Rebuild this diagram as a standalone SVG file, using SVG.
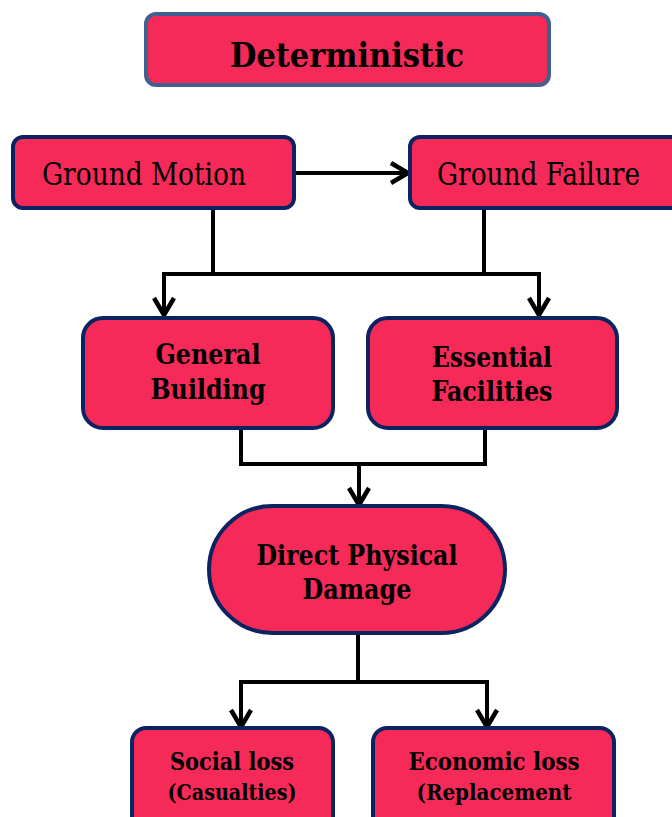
<svg xmlns="http://www.w3.org/2000/svg" width="672" height="817" viewBox="0 0 672 817">
<style>
.box{fill:#F62A58;stroke:#0B2361;stroke-width:4}
.title{fill:#F62A58;stroke:#3F6190;stroke-width:4}
.t{font-family:"DejaVu Serif","Liberation Serif",serif;font-stretch:condensed;fill:#000;text-anchor:middle}
.b{font-weight:bold}
.l{font-family:"DejaVu Serif","Liberation Serif",serif;font-stretch:condensed;fill:#000}
.c{fill:none;stroke:#000;stroke-width:4;stroke-linejoin:miter}
</style>
<defs>
<marker id="ah" markerUnits="userSpaceOnUse" viewBox="0 0 24 26" markerWidth="24" markerHeight="26" refX="20" refY="13" orient="auto">
<path d="M3,3 L20,13 L3,23" fill="none" stroke="#000" stroke-width="4.5"/>
</marker>
</defs>
<rect width="672" height="817" fill="#fff"/>
<g id="connectors">
<line class="c" x1="294" y1="173" x2="408" y2="173" marker-end="url(#ah)"/>
<polyline class="c" points="213,208 213,274"/>
<polyline class="c" points="484,208 484,274"/>
<polyline class="c" points="164,315 164,274 539,274 539,315" marker-end="url(#ah)"/>
<line class="c" x1="164" y1="274" x2="164" y2="315" marker-end="url(#ah)"/>
<polyline class="c" points="241,429 241,464 485,464 485,429"/>
<line class="c" x1="359" y1="464" x2="359" y2="505" marker-end="url(#ah)"/>
<polyline class="c" points="358,633 358,682"/>
<polyline class="c" points="241,727 241,682 487,682 487,727" marker-end="url(#ah)"/>
<line class="c" x1="241" y1="682" x2="241" y2="727" marker-end="url(#ah)"/>
</g>
<g id="title">
<rect class="title" x="146" y="14" width="403" height="71" rx="10"/>
<text class="t b" x="347" y="67" font-size="34" textLength="234" lengthAdjust="spacingAndGlyphs">Deterministic</text>
</g>
<g id="ground-motion">
<rect class="box" x="13" y="137" width="281" height="71" rx="10"/>
<text class="l" x="42" y="185" font-size="31" textLength="204" lengthAdjust="spacingAndGlyphs">Ground Motion</text>
</g>
<g id="ground-failure">
<rect class="box" x="410" y="137" width="275" height="71" rx="10"/>
<text class="l" x="437" y="185" font-size="31" textLength="203" lengthAdjust="spacingAndGlyphs">Ground Failure</text>
</g>
<g id="general-building">
<rect class="box" x="83" y="318" width="250" height="110" rx="20"/>
<text class="t b" x="208" y="364" font-size="28" textLength="105" lengthAdjust="spacingAndGlyphs">General</text>
<text class="t b" x="208" y="399" font-size="28" textLength="115" lengthAdjust="spacingAndGlyphs">Building</text>
</g>
<g id="essential-facilities">
<rect class="box" x="368" y="318" width="249" height="110" rx="20"/>
<text class="t b" x="492" y="367" font-size="28" textLength="120" lengthAdjust="spacingAndGlyphs">Essential</text>
<text class="t b" x="492" y="401" font-size="28" textLength="121" lengthAdjust="spacingAndGlyphs">Facilities</text>
</g>
<g id="direct-physical-damage">
<rect class="box" x="209" y="506" width="296" height="127" rx="63.5"/>
<text class="t b" x="357" y="565" font-size="27" textLength="201" lengthAdjust="spacingAndGlyphs">Direct Physical</text>
<text class="t b" x="357" y="599" font-size="27" textLength="109" lengthAdjust="spacingAndGlyphs">Damage</text>
</g>
<g id="social-loss">
<rect class="box" x="132" y="728" width="201" height="110" rx="14"/>
<text class="t b" x="232" y="770" font-size="23.5" textLength="124" lengthAdjust="spacingAndGlyphs">Social loss</text>
<text class="t b" x="232" y="800" font-size="22" textLength="129" lengthAdjust="spacingAndGlyphs">(Casualties)</text>
</g>
<g id="economic-loss">
<rect class="box" x="373" y="728" width="241" height="110" rx="14"/>
<text class="t b" x="494" y="770" font-size="23.5" textLength="171" lengthAdjust="spacingAndGlyphs">Economic loss</text>
<text class="t b" x="494" y="800" font-size="22" textLength="155" lengthAdjust="spacingAndGlyphs">(Replacement</text>
</g>
</svg>
